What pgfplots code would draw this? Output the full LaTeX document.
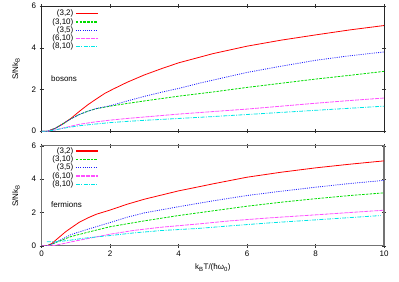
\documentclass[border=0pt]{standalone}
\usepackage{pgfplots}
\pgfplotsset{compat=1.18}
\usepackage{fontspec}
\setmainfont{Liberation Sans}
\definecolor{gred}{RGB}{255,0,0}
\definecolor{ggreen}{RGB}{0,220,0}
\definecolor{gblue}{RGB}{30,30,255}
\definecolor{gmag}{RGB}{255,80,255}
\definecolor{gcyan}{RGB}{0,230,230}
\pgfplotsset{
  legend image code/.code={\draw[#1, line width=1.2pt] (0pt,0pt) -- (22pt,0pt);},
  myax/.style={
    scale only axis, width=342.3pt,
    xmin=0, xmax=10, ymin=0, ymax=6,
    xtick={0,2,4,6,8,10}, ytick={0,2,4,6},
    tick align=center, major tick length=4pt,
    tick style={black!80, line width=0.5pt},
    /pgf/number format/assume math mode=true,
    ticklabel style={font=\fontsize{8}{8}\selectfont},
    label style={font=\fontsize{8}{8}\selectfont},
    ylabel={S/Nk\textsubscript{B}},
    ylabel style={at={(axis description cs:-0.075,0.5)}, anchor=center},
    legend cell align=right, legend plot pos=right,
    legend style={draw=none, fill=none, inner sep=0pt, row sep=-3pt,
      column sep=0pt,
      font=\fontsize{8}{8}\selectfont},
  },
}
\begin{document}
\begin{tikzpicture}
\path (0pt,0pt) rectangle (399pt,279pt);
% top panel: bosons
\begin{axis}[myax, at={(41.7pt,150.7pt)}, anchor=south west, height=125pt,
  xticklabels={},
  axis line style={black!85, line width=0.6pt},
  legend style={at={(rel axis cs:0.025,0.987)}, anchor=north west}]
\addplot[gred, line width=0.8pt, solid] coordinates {(0,0)(0.18,0)(0.4,0.14)(0.6,0.33)(0.86,0.62)(1.1,0.95)(1.35,1.27)(1.6,1.55)(1.85,1.82)(2.1,2.03)(2.5,2.35)(3,2.7)(3.5,3.0)(4,3.28)(5,3.72)(6,4.08)(7,4.37)(8,4.62)(9,4.86)(10,5.07)};
\addlegendentry{(3,2)}
\addplot[ggreen, line width=0.8pt, dash pattern=on 2.5pt off 1.2pt] coordinates {(0,0)(0.18,0)(0.4,0.14)(0.6,0.33)(0.86,0.6)(1.1,0.8)(1.35,0.96)(1.6,1.08)(2,1.2)(2.5,1.33)(3,1.45)(4,1.68)(5,1.88)(6,2.1)(7,2.3)(8,2.5)(9,2.68)(10,2.87)};
\addlegendentry{(3,10)}
\addplot[gblue, line width=0.8pt, dash pattern=on 1pt off 1.2pt] coordinates {(0,0)(0.18,0)(0.4,0.14)(0.6,0.33)(0.86,0.6)(1.1,0.8)(1.35,0.96)(1.6,1.09)(2,1.22)(2.5,1.45)(3,1.67)(3.5,1.87)(4,2.05)(4.6,2.3)(5,2.45)(6,2.82)(7,3.12)(8,3.4)(9,3.62)(10,3.8)};
\addlegendentry{(3,5)}
\addplot[gmag, line width=0.8pt, dash pattern=on 4pt off 1pt] coordinates {(0,0)(0.18,0)(0.4,0.06)(0.6,0.14)(0.86,0.24)(1.1,0.33)(1.5,0.43)(2,0.53)(2.5,0.61)(3,0.68)(4,0.82)(5,0.94)(6,1.06)(7,1.2)(8,1.34)(9,1.47)(10,1.59)};
\addlegendentry{(6,10)}
\addplot[gcyan, line width=0.8pt, dash pattern=on 4pt off 1.3pt on 1pt off 1.3pt] coordinates {(0,0)(0.18,0)(0.4,0.06)(0.6,0.13)(0.86,0.2)(1.1,0.26)(1.5,0.33)(2,0.41)(2.5,0.47)(3,0.52)(4,0.61)(5,0.7)(6,0.8)(7,0.9)(8,1.0)(9,1.1)(10,1.2)};
\addlegendentry{(8,10)}
\node[anchor=west, font=\fontsize{8}{8}\selectfont, inner sep=0pt] at (axis cs:0.27,2.5) {bosons};
\end{axis}
% bottom panel: fermions
\begin{axis}[myax, at={(41.7pt,36pt)}, anchor=south west, height=100pt,
  axis line style={black!55, line width=1.1pt},
  xlabel={k\textsubscript{B}T/(ħω\textsubscript{0})},
  legend style={at={(rel axis cs:0.025,1.007)}, anchor=north west}]
\addplot[gred, line width=0.8pt, solid] coordinates {(0,0)(0.15,0)(0.3,0.15)(0.5,0.5)(0.7,0.85)(0.86,1.08)(1.1,1.42)(1.35,1.68)(1.6,1.9)(2,2.15)(2.5,2.5)(3,2.8)(3.5,3.05)(4,3.3)(4.6,3.55)(5,3.72)(6,4.12)(7,4.42)(8,4.68)(9,4.9)(10,5.1)};
\addlegendentry{(3,2)}
\addplot[ggreen, line width=0.8pt, dash pattern=on 2.5pt off 1.2pt] coordinates {(0,0)(0.15,0)(0.3,0.1)(0.5,0.28)(0.86,0.56)(1.35,0.82)(2,1.15)(3,1.5)(4,1.82)(5,2.1)(6,2.38)(7,2.62)(8,2.83)(9,3.02)(10,3.18)};
\addlegendentry{(3,10)}
\addplot[gblue, line width=0.8pt, dash pattern=on 1pt off 1.2pt] coordinates {(0,0)(0.15,0)(0.3,0.1)(0.5,0.3)(0.86,0.68)(1.35,1.0)(2,1.4)(2.5,1.72)(3,1.98)(4,2.35)(5,2.7)(6,3.02)(7,3.28)(8,3.52)(9,3.74)(10,3.93)};
\addlegendentry{(3,5)}
\addplot[gmag, line width=0.8pt, dash pattern=on 4pt off 1pt] coordinates {(0,0)(0.3,0)(0.6,0.12)(1,0.3)(1.5,0.5)(2,0.7)(2.7,0.93)(3.5,1.12)(4.6,1.32)(5.5,1.5)(6.66,1.68)(8,1.86)(9,2.0)(10,2.14)};
\addlegendentry{(6,10)}
\addplot[gcyan, line width=0.8pt, dash pattern=on 4pt off 1.3pt on 1pt off 1.3pt] coordinates {(0.15,0.25)(0.45,0.25)(0.8,0.33)(1.2,0.45)(2,0.62)(2.7,0.78)(3.5,0.92)(4.6,1.05)(5.5,1.2)(6.66,1.38)(8,1.56)(9.9,1.82)};
\addlegendentry{(8,10)}
\node[anchor=west, font=\fontsize{8}{8}\selectfont, inner sep=0pt] at (axis cs:0.27,2.48) {fermions};
\end{axis}
\end{tikzpicture}
\end{document}
